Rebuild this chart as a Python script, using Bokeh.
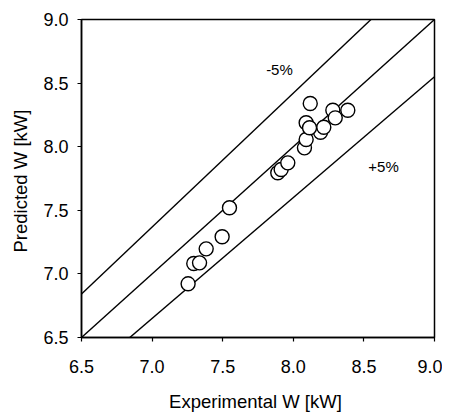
from bokeh.plotting import figure
from bokeh.models import Range1d, FixedTicker, PrintfTickFormatter, Label
from bokeh.embed import file_html
from bokeh.resources import INLINE

# data
exp_w = [7.255, 7.295, 7.336, 7.383, 7.496, 7.548, 7.890, 7.914, 7.961,
         8.079, 8.091, 8.193, 8.091, 8.115, 8.120, 8.216, 8.280, 8.297, 8.386]
pred_w = [6.922, 7.082, 7.087, 7.197, 7.292, 7.520, 7.795, 7.821, 7.873,
          7.991, 8.057, 8.114, 8.188, 8.149, 8.340, 8.153, 8.287, 8.227, 8.287]

ticks = [6.5, 7.0, 7.5, 8.0, 8.5, 9.0]
line_x = [6.5, 9.0]
ratio_lower = 0.95  # +5 % line
FONT = "Liberation Sans"

p = figure(output_backend="svg", toolbar_location=None,
           frame_width=353, frame_height=318,
           min_border_left=81, min_border_top=19,
           min_border_right=8, min_border_bottom=74,
           x_range=Range1d(6.5, 9.0), y_range=Range1d(6.5, 9.0))
p.background_fill_color = "white"
p.border_fill_color = "white"
p.grid.visible = False
p.outline_line_color = "black"
p.outline_line_width = 1.5
p.outline_line_alpha = 1.0

for ax in (p.xaxis[0], p.yaxis[0]):
    ax.ticker = FixedTicker(ticks=ticks)
    ax.formatter = PrintfTickFormatter(format="%.1f")
    ax.major_tick_in = 0
    ax.major_tick_out = 4
    ax.minor_tick_line_color = None
    ax.axis_line_color = "black"
    ax.axis_line_width = 1.5
    ax.major_tick_line_color = "black"
    ax.major_tick_line_width = 1.2
    ax.major_label_text_font = FONT
    ax.major_label_text_font_size = "18px"
    ax.major_label_text_color = "black"
    ax.axis_label_text_font = FONT
    ax.axis_label_text_font_size = "18.5px"
    ax.axis_label_text_font_style = "normal"
    ax.axis_label_text_color = "black"
p.xaxis.major_label_standoff = 18
p.yaxis.major_label_standoff = 9
p.xaxis.axis_label = "Experimental W  [kW]"
p.yaxis.axis_label = "Predicted W  [kW]"
p.xaxis.axis_label_standoff = 15
p.yaxis.axis_label_standoff = 9

# reference lines: y = x, y = x/0.95 (-5%), y = 0.95 x (+5%)
p.line(line_x, line_x, line_color="black", line_width=1.4)
p.line(line_x, [v / ratio_lower for v in line_x], line_color="black", line_width=1.4)
p.line(line_x, [v * ratio_lower for v in line_x], line_color="black", line_width=1.4)

p.scatter(exp_w, pred_w, size=14, fill_color="white", line_color="black",
          line_width=1.4, marker="circle")

# percent labels
p.add_layout(Label(x=7.902, y=8.607, text="-5%", text_align="center",
                   text_baseline="middle", text_font=FONT,
                   text_font_size="15px", text_color="black"))
p.add_layout(Label(x=8.639, y=7.844, text="+5%", text_align="center",
                   text_baseline="middle", text_font=FONT,
                   text_font_size="15px", text_color="black"))

open("out.html", "w").write(file_html(p, INLINE))
